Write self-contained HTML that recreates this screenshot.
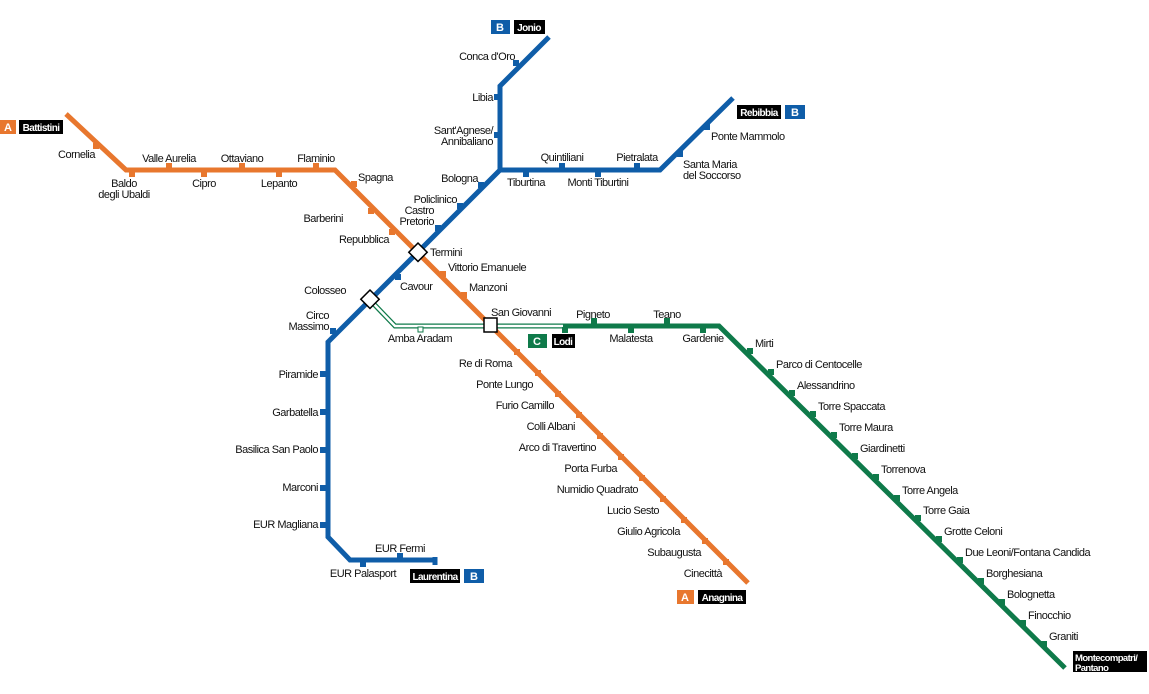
<!DOCTYPE html>
<html><head><meta charset="utf-8"><style>
html,body{margin:0;padding:0;background:#fff;}
svg{display:block}
text{font-family:"Liberation Sans",sans-serif;font-size:11px;letter-spacing:-0.5px;fill:#111}
.e{text-anchor:end}.m{text-anchor:middle}
.w{fill:#fff;font-weight:bold;letter-spacing:0}
.wb{fill:#fff;font-weight:bold;font-size:10px;letter-spacing:-0.6px}
</style></head><body>
<svg width="1149" height="694" viewBox="0 0 1149 694" xmlns="http://www.w3.org/2000/svg">
<polyline points="370,300 395,326 563,326" fill="none" stroke="#0f7a4a" stroke-width="5"/>
<polyline points="370,300 395,326 563,326" fill="none" stroke="#fff" stroke-width="2.5"/>
<polyline points="563,326 719,326 1065,668" fill="none" stroke="#0f7a4a" stroke-width="5"/>
<polyline points="66,114 126,170 335,170 748,583" fill="none" stroke="#e8772e" stroke-width="5"/>
<polyline points="549,37 500,86 500,170 660,170 733,98" fill="none" stroke="#0f5da8" stroke-width="5"/>
<polyline points="500,170 328,342 328,537 350,560 435,560" fill="none" stroke="#0f5da8" stroke-width="5"/>
<line x1="435" y1="557" x2="435" y2="565" stroke="#0f5da8" stroke-width="5"/>

<g fill="#e8772e">
<rect x="93" y="143" width="6" height="6"/>
<rect x="129" y="171" width="6" height="6"/>
<rect x="166" y="163" width="6" height="6"/>
<rect x="201" y="171" width="6" height="6"/>
<rect x="239" y="163" width="6" height="6"/>
<rect x="276" y="171" width="6" height="6"/>
<rect x="313" y="163" width="6" height="6"/>
<rect x="351" y="181" width="6" height="6"/>
<rect x="368" y="208" width="6" height="6"/>
<rect x="389" y="229" width="6" height="6"/>
<rect x="440" y="271" width="6" height="6"/>
<rect x="461" y="292" width="6" height="6"/>
<rect x="514" y="349" width="6" height="6"/>
<rect x="535" y="370" width="6" height="6"/>
<rect x="555" y="391" width="6" height="6"/>
<rect x="576" y="412" width="6" height="6"/>
<rect x="597" y="433" width="6" height="6"/>
<rect x="618" y="454" width="6" height="6"/>
<rect x="639" y="475" width="6" height="6"/>
<rect x="660" y="496" width="6" height="6"/>
<rect x="681" y="517" width="6" height="6"/>
<rect x="702" y="538" width="6" height="6"/>
<rect x="723" y="559" width="6" height="6"/>
</g>
<g fill="#0f5da8">
<rect x="513" y="60" width="6" height="6"/>
<rect x="494" y="94" width="6" height="6"/>
<rect x="494" y="132" width="6" height="6"/>
<rect x="478" y="182" width="6" height="6"/>
<rect x="457" y="203" width="6" height="6"/>
<rect x="435" y="225" width="6" height="6"/>
<rect x="395" y="274" width="6" height="6"/>
<rect x="330" y="328" width="6" height="6"/>
<rect x="320" y="371" width="6" height="6"/>
<rect x="320" y="409" width="6" height="6"/>
<rect x="320" y="447" width="6" height="6"/>
<rect x="320" y="485" width="6" height="6"/>
<rect x="320" y="522" width="6" height="6"/>
<rect x="397" y="553" width="6" height="6"/>
<rect x="360" y="561" width="6" height="6"/>
<rect x="523" y="171" width="6" height="6"/>
<rect x="559" y="163" width="6" height="6"/>
<rect x="595" y="171" width="6" height="6"/>
<rect x="634" y="163" width="6" height="6"/>
<rect x="677" y="151" width="6" height="6"/>
<rect x="704" y="124" width="6" height="6"/>
</g>
<g fill="#0f7a4a">
<rect x="591" y="318" width="6" height="6"/>
<rect x="664" y="318" width="6" height="6"/>
<rect x="628" y="327" width="6" height="6"/>
<rect x="700" y="327" width="6" height="6"/>
<rect x="562" y="327" width="6" height="6"/>
<rect x="747" y="348" width="6" height="6"/>
<rect x="768" y="369" width="6" height="6"/>
<rect x="789" y="390" width="6" height="6"/>
<rect x="810" y="411" width="6" height="6"/>
<rect x="831" y="432" width="6" height="6"/>
<rect x="852" y="453" width="6" height="6"/>
<rect x="873" y="474" width="6" height="6"/>
<rect x="894" y="495" width="6" height="6"/>
<rect x="915" y="515" width="6" height="6"/>
<rect x="936" y="536" width="6" height="6"/>
<rect x="957" y="557" width="6" height="6"/>
<rect x="978" y="578" width="6" height="6"/>
<rect x="999" y="599" width="6" height="6"/>
<rect x="1020" y="620" width="6" height="6"/>
<rect x="1041" y="641" width="6" height="6"/>
</g>
<rect x="418" y="327" width="5" height="5" fill="#fff" stroke="#0f7a4a" stroke-width="1"/>

<rect x="411" y="246" width="13" height="13" fill="#fff" stroke="#000" stroke-width="1.5" transform="rotate(45 418 253)"/>
<rect x="363" y="293" width="13" height="13" fill="#fff" stroke="#000" stroke-width="1.5" transform="rotate(45 370 300)"/>
<rect x="484" y="318" width="13" height="14" fill="#fff" stroke="#000" stroke-width="1.5"/>

<rect x="0" y="120" width="16" height="14" fill="#e8772e"/><text x="8" y="131" class="w m">A</text>
<rect x="19" y="120" width="44" height="14" fill="#000"/><text x="41" y="131" class="wb m">Battistini</text>
<rect x="677" y="590" width="17" height="14" fill="#e8772e"/><text x="685" y="601" class="w m">A</text>
<rect x="698" y="590" width="48" height="14" fill="#000"/><text x="722" y="601" class="wb m">Anagnina</text>
<rect x="491" y="20" width="19" height="14" fill="#0f5da8"/><text x="500" y="31" class="w m">B</text>
<rect x="514" y="20" width="31" height="14" fill="#000"/><text x="529" y="31" class="wb m">Jonio</text>
<rect x="737" y="105" width="44" height="14" fill="#000"/><text x="759" y="116" class="wb m">Rebibbia</text>
<rect x="785" y="105" width="20" height="14" fill="#0f5da8"/><text x="795" y="116" class="w m">B</text>
<rect x="410" y="569" width="50" height="14" fill="#000"/><text x="435" y="580" class="wb m">Laurentina</text>
<rect x="464" y="569" width="20" height="14" fill="#0f5da8"/><text x="474" y="580" class="w m">B</text>
<rect x="528" y="334" width="19" height="14" fill="#0f7a4a"/><text x="537" y="345" class="w m">C</text>
<rect x="552" y="334" width="23" height="14" fill="#000"/><text x="563" y="345" class="wb m">Lodi</text>
<rect x="1073" y="651" width="74" height="21" fill="#000"/>
<text x="1075" y="661" class="wb" style="font-size:9.5px">Montecompatri/</text>
<text x="1075" y="671" class="wb" style="font-size:9.5px">Pantano</text>

<text x="95" y="158" class="e">Cornelia</text>
<text x="169" y="162" class="m">Valle Aurelia</text>
<text x="242" y="162" class="m">Ottaviano</text>
<text x="316" y="162" class="m">Flaminio</text>
<text x="124" y="187" class="m">Baldo</text>
<text x="124" y="198" class="m">degli Ubaldi</text>
<text x="204" y="187" class="m">Cipro</text>
<text x="279" y="187" class="m">Lepanto</text>
<text x="358" y="181">Spagna</text>
<text x="343" y="222" class="e">Barberini</text>
<text x="389" y="243" class="e">Repubblica</text>
<text x="430" y="256">Termini</text>
<text x="448" y="271">Vittorio Emanuele</text>
<text x="469" y="291">Manzoni</text>
<text x="491" y="316">San Giovanni</text>
<text x="512" y="367" class="e">Re di Roma</text>
<text x="533" y="388" class="e">Ponte Lungo</text>
<text x="554" y="409" class="e">Furio Camillo</text>
<text x="575" y="430" class="e">Colli Albani</text>
<text x="596" y="451" class="e">Arco di Travertino</text>
<text x="617" y="472" class="e">Porta Furba</text>
<text x="638" y="493" class="e">Numidio Quadrato</text>
<text x="659" y="514" class="e">Lucio Sesto</text>
<text x="680" y="535" class="e">Giulio Agricola</text>
<text x="701" y="556" class="e">Subaugusta</text>
<text x="722" y="577" class="e">Cinecittà</text>
<text x="515" y="60" class="e">Conca d'Oro</text>
<text x="493" y="101" class="e">Libia</text>
<text x="493" y="134" class="e">Sant'Agnese/</text>
<text x="493" y="145" class="e">Annibaliano</text>
<text x="478" y="182" class="e">Bologna</text>
<text x="457" y="203" class="e">Policlinico</text>
<text x="434" y="214" class="e">Castro</text>
<text x="434" y="225" class="e">Pretorio</text>
<text x="400" y="290">Cavour</text>
<text x="346" y="294" class="e">Colosseo</text>
<text x="329" y="319" class="e">Circo</text>
<text x="329" y="330" class="e">Massimo</text>
<text x="318" y="378" class="e">Piramide</text>
<text x="318" y="416" class="e">Garbatella</text>
<text x="318" y="453" class="e">Basilica San Paolo</text>
<text x="318" y="491" class="e">Marconi</text>
<text x="318" y="528" class="e">EUR Magliana</text>
<text x="400" y="552" class="m">EUR Fermi</text>
<text x="363" y="577" class="m">EUR Palasport</text>
<text x="526" y="186" class="m">Tiburtina</text>
<text x="562" y="161" class="m">Quintiliani</text>
<text x="598" y="186" class="m">Monti Tiburtini</text>
<text x="637" y="161" class="m">Pietralata</text>
<text x="683" y="168">Santa Maria</text>
<text x="683" y="179">del Soccorso</text>
<text x="711" y="140">Ponte Mammolo</text>
<text x="420" y="342" class="m">Amba Aradam</text>
<text x="593" y="318" class="m">Pigneto</text>
<text x="667" y="318" class="m">Teano</text>
<text x="631" y="342" class="m">Malatesta</text>
<text x="703" y="342" class="m">Gardenie</text>
<text x="755" y="347">Mirti</text>
<text x="776" y="368">Parco di Centocelle</text>
<text x="797" y="389">Alessandrino</text>
<text x="818" y="410">Torre Spaccata</text>
<text x="839" y="431">Torre Maura</text>
<text x="860" y="452">Giardinetti</text>
<text x="881" y="473">Torrenova</text>
<text x="902" y="494">Torre Angela</text>
<text x="923" y="514">Torre Gaia</text>
<text x="944" y="535">Grotte Celoni</text>
<text x="965" y="556">Due Leoni/Fontana Candida</text>
<text x="986" y="577">Borghesiana</text>
<text x="1007" y="598">Bolognetta</text>
<text x="1028" y="619">Finocchio</text>
<text x="1049" y="640">Graniti</text>
</svg>
</body></html>
